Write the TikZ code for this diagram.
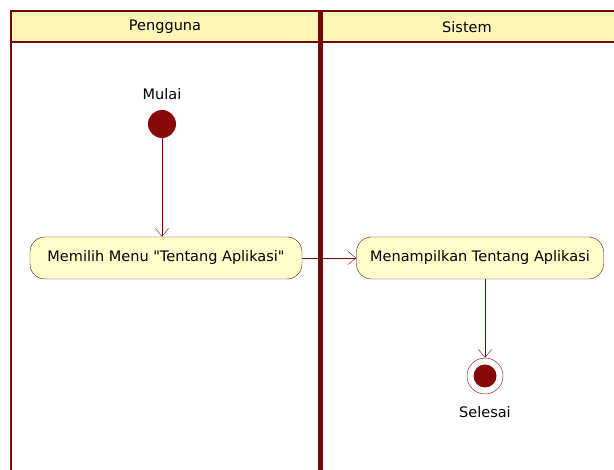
\documentclass[tikz,border=0pt]{standalone}
\usepackage{fontspec}
\setmainfont{DejaVu Sans}
\usetikzlibrary{arrows.meta,positioning}
\definecolor{lanered}{RGB}{115,5,5}
\definecolor{dotred}{RGB}{135,8,8}
\definecolor{headfill}{RGB}{255,245,180}
\definecolor{actfill}{RGB}{255,255,204}

\begin{document}
\begin{tikzpicture}[x=1pt,y=-1pt,
  every node/.style={font=\fontsize{14.5}{16}\selectfont},
  act/.style={draw=lanered,fill=actfill,rounded corners=15pt,minimum height=42pt,inner xsep=8pt},
  flow/.style={draw=lanered,-{Straight Barb[length=8pt,width=13pt]}},
  startnode/.style={circle,fill=dotred,minimum size=28pt,inner sep=0},
  endnode/.style={circle,draw=lanered,minimum size=36pt,inner sep=0,
    path picture={\fill[dotred] (path picture bounding box.center) circle (11.5pt);}}]
\useasboundingbox (0,0) rectangle (614,470);
% lanes
\fill[headfill] (11,11) rectangle (614,42);
\draw[lanered,line width=2.5pt] (614,11) -- (11,11) -- (11,470);
\draw[lanered,line width=2.5pt] (11,42) -- (614,42);
\draw[lanered,line width=5pt] (320,11) -- (320,470);
\node[anchor=center] (lane-user) at (165,27) {Pengguna};
\node[anchor=center] (lane-sys) at (467,27) {Sistem};

% activities
\node[startnode] (mulai) at (162,124) {};
\node[above=10pt of mulai,inner sep=0] (mulai-lbl) {Mulai};
\node[act,minimum width=272pt] (pilih) at (166,258) {Memilih Menu \textquotedbl Tentang Aplikasi\textquotedbl};
\node[act,minimum width=247pt] (tampil) at (480,258) {Menampilkan Tentang Aplikasi};
\node[endnode] (selesai) at (485,376) {};
\node[below=12pt of selesai,inner sep=0] (selesai-lbl) {Selesai};

\draw[flow] (mulai) -- (mulai |- pilih.north);
\draw[flow] (pilih) -- (tampil);
\draw[flow] (tampil.south -| selesai) -- (selesai);
\end{tikzpicture}
\end{document}
